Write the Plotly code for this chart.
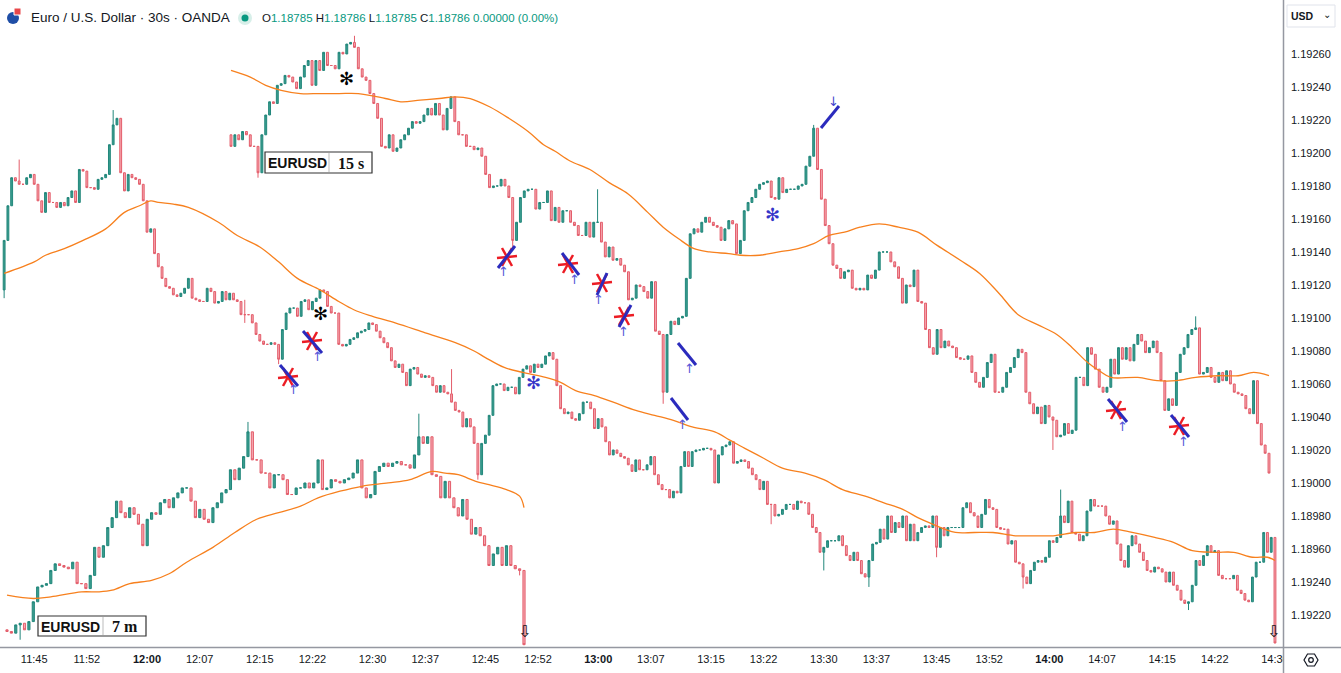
import pandas as pd
import plotly.graph_objects as go

# prices are kept in points (0.00001) above 1.19000
# EURUSD 30s, the main chart
main_open0 = 117
main_close = [
    147, 168, 185, 183, 181, 181, 185, 187, 181, 171, 164, 176, 170, 170, 167, 170, 168, 173, 177, 170,
    190, 189, 179, 179, 178, 184, 185, 187, 205, 217, 221, 188, 177, 187, 185, 184, 181, 171, 152, 154,
    139, 131, 124, 119, 118, 114, 113, 115, 118,
    124, 112, 111, 110, 110, 118, 116, 109, 110, 116, 111, 115, 111, 110, 102, 102, 102, 97, 90, 86,
    84, 84, 85, 84, 75, 93, 103, 106, 106, 101, 110, 111, 105, 110, 112, 117, 116, 107, 103, 103,
    84, 83, 84, 87, 88, 91, 92, 93, 97,
    96, 92, 88, 85, 82, 74, 70, 72, 67, 59, 69, 70, 66, 64, 65, 64, 59, 55, 59, 55,
    54, 49, 44, 43, 34, 39, 34, 24, 5, 24, 29, 41, 59, 60, 60, 56, 58, 58, 54, 64,
    69, 71, 67, 72, 70, 72, 77, 79, 75,
    59, 45, 42, 43, 39, 38, 42, 49, 49, 45, 33, 39, 34, 25, 17, 20, 18, 16, 15, 11,
    7, 14, 8, 8, 11, 16, 5, -1, -4, -4, -9, -5, -6, 10, 19, 10, 19, 20, 20, 21,
    21, 20, 0, 17, 22, 23, 25, 12, 13,
    14, 13, 9, 5, 2, -4, 1, -13, -13, -20, -19, -16, -13, -13, -16, -11, -12, -12, -19, -27,
    -30, -42, -39, -35, -35, -35, -32, -38, -44, -47, -42, -47, -55, -57, -47, -37, -36, -28, -34, -20,
    -30, -24, -27, -20, -35, -25, -35, -30, -27, -26,
    -27, -20, -39, -27, -32, -27, -27, -27, -27, -15, -12, -18, -20, -27, -19, -10, -15, -16, -27, -28,
    -28, -37, -35, -48, -49, -57, -61, -53, -48, -47, -48, -45, -35, -36, -33, -20, -24, -11, -30, -31,
    -35, -32, -17, -10, -14, -14, -14, -20, -25,
    -23, -37, -47, -51, -38, -32, -37, -42, -47, -53, -54, -51, -52, -54, -60, -54, -62, -65, -71, -73,
    -72, -62, -47, -50, -44, -38, -42, -41, -56, -58, -58, -58, -56, -65, -67, -71, -72, -57, -48, -48,
    -30, -42, -33, -97,
]
main_hi = {4: 196, 29: 226, 64: 111, 119: 69, 281: -4}
main_lo = {0: 112, 64: 97, 73: 72, 126: 2, 204: -25, 218: -53, 230: -63, 248: -45, 271: -64, 315: -77}

# EURUSD 15 s, pasted over the top
b_open0 = 211
b_close = [
    204, 211, 208, 213, 211, 204, 204, 188, 211, 223, 231, 230, 241, 242, 247, 246, 243, 239, 246, 253,
    256, 241, 256, 250, 261, 253, 253, 251, 261, 260, 266, 267, 264, 251, 246, 244,
    236, 230, 221, 204, 203, 211, 201, 203, 208, 211, 215, 219, 218, 219, 223, 227, 223, 230, 223, 214,
    227, 234, 219, 211, 211, 204, 204, 202, 203, 198, 187, 179, 180, 180, 184, 180, 173, 147, 158, 173,
    177, 178, 178, 166, 170, 170, 177, 159,
    167, 158, 165, 165, 158, 156, 150, 150, 158, 149, 158, 158, 146, 137, 143, 135, 136, 132, 128, 111,
    112, 120, 119, 116, 112, 122, 92, 90, 55, 90, 98, 96, 100, 101, 124, 151, 154, 152, 158, 161,
    158, 156, 155, 147, 154, 159, 157,
    139, 147, 165, 170, 173, 178, 181, 182, 183, 173, 172, 185, 176, 178, 178, 178, 180, 181, 192, 198,
    215, 190, 172, 156, 145, 132, 130, 124, 128, 129, 118, 117, 118, 117, 126, 124, 129, 140, 140, 140,
    134, 131, 124, 109, 120, 119, 129, 110,
    109, 93, 82, 78, 93, 82, 86, 83, 82, 76, 75, 75, 77, 67, 61, 58, 64, 73, 78, 55,
    55, 58, 67, 70, 76, 81, 79, 55, 48, 42, 46, 36, 47, 40, 38, 28, 29, 36, 30, 32,
    64, 64, 59, 82, 78, 69, 58, 55,
    58, 75, 66, 82, 75, 82, 74, 84, 90, 86, 79, 82, 86, 79, 62, 44, 51, 47, 67, 78,
    82, 90, 93, 94, 66, 67, 70, 64, 61, 67, 62, 68, 60, 55, 54, 53, 45, 42, 62, 36,
    23, 18, 6,
]
b_hi = {32: 271, 95: 178, 151: 217, 250: 101}
b_lo = {7: 185, 73: 141, 112: 48, 213: 20}

# EURUSD 7 m, pasted over the bottom left
c_open0 = -89
c_close = [
    -90, -91, -86, -85, -89, -84, -72, -63, -62, -61, -53, -49, -50, -51, -52, -48, -61, -61, -64, -56,
    -39, -45, -38, -27, -21, -11, -18, -21, -15, -19, -25, -38, -22, -18, -19, -12, -10, -15, -9, -6,
    -3,
    -3, -11, -21, -16, -22, -24, -15, -12, -6, -4, 8, 2, 9, 16, 31, 14, 14, 6, 6, -3,
    5, 5, 2, -7, -7, -3, -3, 0, -3, 0, 14, -4, -3, 2, 1, 0, 2, 3, 6, 14,
    -3, -9,
    -7, 7, 10, 12, 10, 12, 13, 11, 11, 9, 17, 28, 24, 28, 5, 4, -9, 1, -9, -15,
    -20, -10, -22, -31, -27, -32, -38, -50, -43, -39, -50, -38, -50, -52, -53, -98,
]
c_hi = {55: 37, 94: 42}
c_lo = {3: -95, 117: -56}

# moving averages (bar index, points)
main_ma_idx = [0, 8, 11, 16, 21, 27, 32, 36, 39, 41, 45, 49, 57, 62, 68, 73, 78, 84, 89, 93,
               98, 104, 112, 120, 125, 128, 133, 138, 144, 148, 152, 157, 162, 168, 173, 178, 183, 189, 193, 197,
               202, 207, 213, 218, 223, 229, 234, 239, 243, 246, 253, 258, 263, 269, 274, 279, 285, 290, 295, 300,
               306, 311, 316, 322, 327, 332, 336, 338]
main_ma_val = [127, 134, 138, 142, 147, 154, 164, 168, 171, 170, 169, 167, 158, 150, 143, 134, 124, 117, 110, 105,
               101, 97, 91, 85, 80, 76, 70, 67, 64, 61, 56, 53, 49, 44, 41, 38, 34, 31, 26, 21,
               15, 9, 6, 2, -4, -8, -12, -16, -21, -24, -30, -30, -30, -32, -32, -32, -30, -30, -28, -30,
               -33, -36, -41, -42, -42, -45, -45, -47]
b_ma_idx = [0, 5, 9, 13, 18, 23, 28, 33, 40, 44, 49, 54, 58, 62, 67, 72, 77, 81, 84, 88,
            93, 98, 103, 108, 112, 116, 120, 124, 129, 132, 137, 142, 147, 151, 155, 159, 163, 168, 173, 178,
            183, 189, 194, 199, 204, 209, 214, 218, 222, 225, 228, 235, 240, 245, 250, 256, 261, 265, 269]
b_ma_val = [250, 246, 241, 238, 236, 236, 236, 236, 233, 231, 232, 233, 234, 233, 228, 221, 213, 205, 201, 195,
            190, 182, 175, 164, 155, 148, 142, 140, 139, 138, 138, 140, 142, 145, 150, 152, 155, 157, 155, 152,
            144, 135, 127, 115, 102, 96, 90, 82, 73, 68, 64, 64, 62, 62, 64, 65, 65, 67, 65]
c_ma_idx = [0, 6, 10, 17, 21, 24, 28, 33, 37, 41, 47, 52, 57, 62, 67, 71, 76, 81, 87, 92,
            97, 100, 103, 107, 110, 114, 117, 118]
c_ma_val = [-68, -70, -69, -66, -66, -65, -61, -59, -55, -48, -39, -30, -22, -18, -14, -9, -5, -2, 0, 2,
            7, 6, 5, 1, -1, -4, -8, -15]

price_ticks = [260, 240, 220, 200, 180, 160, 140, 120, 100, 80, 60, 40, 20, 0, -20, -40, -60, -80]
price_text = ["1.19260", "1.19240", "1.19220", "1.19200", "1.19180", "1.19160", "1.19140", "1.19120",
              "1.19100", "1.19080", "1.19060", "1.19040", "1.19020", "1.19000", "1.18980", "1.18960",
              "1.19240", "1.19220"]
time_ticks = ["11:45", "11:52", "12:00", "12:07", "12:15", "12:22", "12:30", "12:37", "12:45", "12:52",
              "13:00", "13:07", "13:15", "13:22", "13:30", "13:37", "13:45", "13:52", "14:00", "14:07",
              "14:15", "14:22", "14:30"]
time_text = ["<b>" + t + "</b>" if t.endswith(":00") else t for t in time_ticks]

DAY = "2021-03-01 "
W, H = 1283, 647   # plot area in pixels


def px(v):
    return 1.19 + v / 1e5


def ohlc(o0, closes, hi, lo):
    o = [o0] + closes[:-1]
    h = [max(a, b) for a, b in zip(o, closes)]
    l = [min(a, b) for a, b in zip(o, closes)]
    for k, v in hi.items():
        h[k] = max(h[k], v)
    for k, v in lo.items():
        l[k] = min(l[k], v)
    return [px(v) for v in o], [px(v) for v in h], [px(v) for v in l], [px(v) for v in closes]


inc = dict(line=dict(color="#22877b", width=1), fillcolor="#3a9d8f")
dec = dict(line=dict(color="#e35d6a", width=1), fillcolor="#f6a8b1")
orange = "#f7801e"

times = pd.date_range(DAY + "11:41:00", periods=len(main_close), freq="30s")

fig = go.Figure()

o, h, l, c = ohlc(main_open0, main_close, main_hi, main_lo)
fig.add_trace(go.Candlestick(x=times, open=o, high=h, low=l, close=c,
                             increasing=inc, decreasing=dec, whiskerwidth=0, hoverinfo="skip"))
fig.add_trace(go.Scatter(x=times[main_ma_idx], y=[px(v) for v in main_ma_val], mode="lines",
                         line=dict(color=orange, width=1.3, shape="spline"), hoverinfo="skip"))

o, h, l, c = ohlc(b_open0, b_close, b_hi, b_lo)
fig.add_trace(go.Candlestick(x=list(range(len(b_close))), open=o, high=h, low=l, close=c,
                             increasing=inc, decreasing=dec, whiskerwidth=0, xaxis="x2", hoverinfo="skip"))
fig.add_trace(go.Scatter(x=b_ma_idx, y=[px(v) for v in b_ma_val], mode="lines", xaxis="x2",
                         line=dict(color=orange, width=1.3, shape="spline"), hoverinfo="skip"))

o, h, l, c = ohlc(c_open0, c_close, c_hi, c_lo)
fig.add_trace(go.Candlestick(x=list(range(len(c_close))), open=o, high=h, low=l, close=c,
                             increasing=inc, decreasing=dec, whiskerwidth=0, xaxis="x3", hoverinfo="skip"))
fig.add_trace(go.Scatter(x=c_ma_idx, y=[px(v) for v in c_ma_val], mode="lines", xaxis="x3",
                         line=dict(color=orange, width=1.3, shape="spline"), hoverinfo="skip"))


def bar_range(n, first_px, last_px):
    step = (last_px - first_px) / (n - 1)
    left = -first_px / step
    return [left, left + W / step]


# the pasted charts sit at these pixel spans
b_range = bar_range(len(b_close), 231, 1269)
c_range = bar_range(len(c_close), 7, 524)

axfont = dict(family="Liberation Sans, Arial", size=11, color="#131722")
fig.update_layout(
    width=1341, height=673, margin=dict(l=0, r=58, t=0, b=26),
    paper_bgcolor="white", plot_bgcolor="white", showlegend=False,
    xaxis=dict(type="date", range=[DAY + "11:40:27", DAY + "14:31:04"],
               tickvals=[DAY + t for t in time_ticks], ticktext=time_text,
               ticks="", showgrid=False, zeroline=False, showline=False,
               tickfont=axfont, rangeslider=dict(visible=False), ticklabelstandoff=4),
    xaxis2=dict(overlaying="x", range=b_range, visible=False, rangeslider=dict(visible=False)),
    xaxis3=dict(overlaying="x", range=c_range, visible=False, rangeslider=dict(visible=False)),
    yaxis=dict(side="right", range=[px(-99.4), px(292.7)],
               tickvals=[px(v) for v in price_ticks], ticktext=price_text,
               ticks="", showgrid=False, zeroline=False, showline=False,
               tickfont=axfont, ticklabelstandoff=7, automargin=False),
)


def X(x):
    return x / W


def Y(y):
    return 1 - y / H


shapes = []
ann = []


def line(x0, y0, x1, y1, color, width):
    shapes.append(dict(type="line", xref="paper", yref="paper", x0=X(x0), y0=Y(y0), x1=X(x1), y1=Y(y1),
                       line=dict(color=color, width=width), layer="above"))


def text(x, y, s, size, color="#131722", family="Liberation Sans, Arial", xanchor="center"):
    ann.append(dict(x=X(x), y=Y(y), xref="paper", yref="paper", text=s, showarrow=False,
                    xanchor=xanchor, yanchor="middle", font=dict(size=size, color=color, family=family)))


# axis separators; white patch cuts the last time label like the screenshot does
shapes.append(dict(type="rect", xref="paper", yref="paper", x0=X(1284), x1=X(1341), y0=Y(648), y1=Y(673),
                   fillcolor="white", line=dict(width=0), layer="above"))
line(1283.5, 0, 1283.5, 673, "#9598a1", 1.5)
line(0, 647.5, 1341, 647.5, "#9598a1", 1.5)

# gear icon
gx, gy = 1311, 660
hexpts = [(gx + 7, gy), (gx + 3.5, gy - 6), (gx - 3.5, gy - 6), (gx - 7, gy), (gx - 3.5, gy + 6), (gx + 3.5, gy + 6)]
path = "M " + " L ".join(f"{X(a):.5f},{Y(b):.5f}" for a, b in hexpts) + " Z"
shapes.append(dict(type="path", xref="paper", yref="paper", path=path, line=dict(color="#131722", width=1.2),
                   layer="above"))
shapes.append(dict(type="circle", xref="paper", yref="paper", x0=X(gx - 2.3), x1=X(gx + 2.3), y0=Y(gy - 2.3),
                   y1=Y(gy + 2.3), line=dict(color="#131722", width=1.2), layer="above"))

# USD box
shapes.append(dict(type="rect", xref="paper", yref="paper", x0=X(1287), x1=X(1335), y0=Y(5), y1=Y(27),
                   line=dict(color="#e0e3eb", width=1), fillcolor="white", layer="above"))
text(1302, 16.5, "<b>USD</b>", 10.5)
text(1327, 15, "⌄", 10)

# header
shapes.append(dict(type="circle", xref="paper", yref="paper", x0=X(7), x1=X(19), y0=Y(12), y1=Y(24),
                   fillcolor="#1f4ea6", line=dict(width=0), layer="above"))
shapes.append(dict(type="rect", xref="paper", yref="paper", x0=X(14), x1=X(21), y0=Y(8), y1=Y(15),
                   fillcolor="#e8474a", line=dict(color="white", width=1), layer="above"))
text(29, 17.5, "Euro / U.S. Dollar · 30s · OANDA", 13.5, xanchor="left")
shapes.append(dict(type="circle", xref="paper", yref="paper", x0=X(238), x1=X(252), y0=Y(11), y1=Y(25),
                   fillcolor="#d7efe9", line=dict(width=0), layer="above"))
shapes.append(dict(type="circle", xref="paper", yref="paper", x0=X(241.5), x1=X(248.5), y0=Y(14.5), y1=Y(21.5),
                   fillcolor="#089981", line=dict(width=0), layer="above"))
g = "<span style='color:#089981'>"
text(260, 17.5, f"O{g}1.18785</span> H{g}1.18786</span> L{g}1.18785</span> C{g}1.18786</span> "
                f"{g}0.00000 (0.00%)</span>", 11.5, xanchor="left")

# labels of the pasted charts
for x0, x1, y0, y1, xd, tf in [(265, 372, 152, 173, 329, "15 s"), (38, 146, 616, 636, 103, "7 m")]:
    shapes.append(dict(type="rect", xref="paper", yref="paper", x0=X(x0), x1=X(x1), y0=Y(y0), y1=Y(y1),
                       fillcolor="white", line=dict(color="#333333", width=1.2), layer="above"))
    line(xd, y0 + 1, xd, y1 - 1, "#bbbbbb", 1)
    text((x0 + xd) / 2, (y0 + y1) / 2 + 0.5, "<b>EURUSD</b>", 14, "#111111", "Liberation Sans Narrow, Liberation Sans")
    text((xd + x1) / 2, (y0 + y1) / 2 + 0.5, "<b>" + tf + "</b>", 16, "#111111", "Liberation Serif, serif")

# hand drawn marks
red = "#ec1c24"
for cx, cy in [(288, 377), (312, 341), (507, 257), (568, 264), (602, 283), (624, 316), (1116, 410), (1179, 426)]:
    line(cx - 10, cy + 1, cx + 10, cy - 1, red, 2.5)
    line(cx - 5, cy - 9, cx + 5, cy + 9, red, 2.5)
    line(cx + 5, cy - 9, cx - 5, cy + 9, red, 2.5)

blue = "#2b2bbd"
for x0, y0, x1, y1 in [(280, 365, 298, 386), (303, 331, 322, 353), (498, 268, 515, 246), (562, 253, 579, 275),
                       (597, 295, 607, 273), (619, 327, 631, 305), (678, 343, 696, 365), (671, 398, 688, 420),
                       (821, 128, 839, 106), (1108, 399, 1127, 422), (1171, 415, 1189, 437)]:
    line(x0, y0, x1, y1, blue, 3)

for x, y in [(293, 389), (317, 356), (503, 271), (574, 280), (598, 299), (623, 331), (690, 368), (682, 424),
             (1122, 426), (1183, 441)]:
    text(x, y, "↑", 13, "#5656d8", "DejaVu Sans")
text(833, 101, "↓", 13, "#4444cc", "DejaVu Sans")

for x, y, col in [(346, 78, "#000000"), (320, 313, "#000000"), (772, 215, "#3535c8"), (533, 382, "#3535c8")]:
    text(x, y, "✻", 18, col, "DejaVu Sans")

for x in [524, 1273]:
    text(x, 631, "⇩", 16, "#111111", "DejaVu Sans")

fig.update_layout(shapes=shapes, annotations=ann)
# the page's default body margin would push the 1341x673 figure off the window
fig.write_html("out.html", config={"displayModeBar": False},
               post_script="document.body.style.margin='0px';")
